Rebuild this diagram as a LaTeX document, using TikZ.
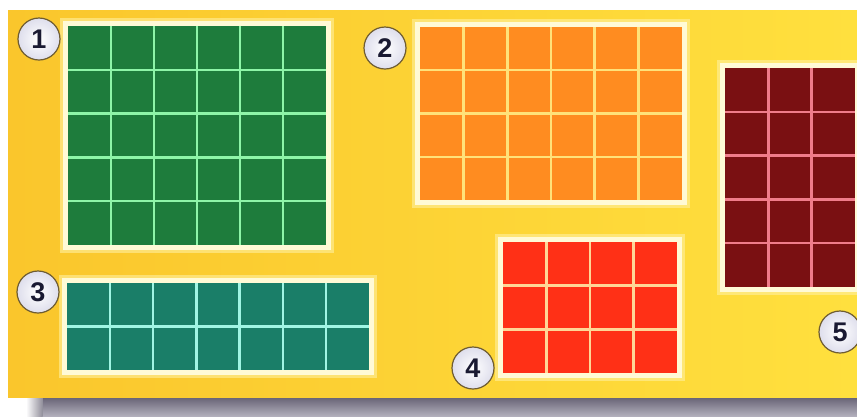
\documentclass[tikz,border=0pt]{standalone}
\usepackage{fontspec}
\setmainfont{Liberation Sans}
\usetikzlibrary{shadings}
\definecolor{bgl}{RGB}{250,198,44}
\definecolor{bgr}{RGB}{255,224,62}
\definecolor{framec}{RGB}{255,250,214}
\definecolor{glowc}{RGB}{255,240,160}
\definecolor{g1}{RGB}{30,124,60}
\definecolor{l1}{RGB}{142,245,168}
\definecolor{g2}{RGB}{255,140,32}
\definecolor{l2}{RGB}{255,226,122}
\definecolor{g3}{RGB}{26,126,104}
\definecolor{l3}{RGB}{160,245,228}
\definecolor{g4}{RGB}{255,48,22}
\definecolor{l4}{RGB}{255,214,150}
\definecolor{g5}{RGB}{122,16,18}
\definecolor{l5}{RGB}{240,124,138}
\definecolor{ringc}{RGB}{110,92,50}
\definecolor{numc}{RGB}{26,26,50}
\definecolor{shtop}{RGB}{98,94,112}
\definecolor{shbot}{RGB}{178,175,188}
% #1 x0, #2 y0, #3 x1, #4 y1, #5 inner column list, #6 inner row list, #7 ncols, #8 nrows, #9 colour suffix
\newcommand{\cellgrid}[9]{%
  \fill[glowc,opacity=0.6] (#1-8,#2-8) rectangle (#3+8,#4+8);
  \fill[framec] (#1-5,#2-5) rectangle (#3+5,#4+5);
  \fill[g#9] (#1,#2) rectangle (#3,#4);
  \foreach \i in {#5}{\draw[l#9,gridline] ({#1+(#3-#1)*\i/#7},#2) -- ({#1+(#3-#1)*\i/#7},#4);}
  \foreach \j in {#6}{\draw[l#9,gridline] (#1,{#2+(#4-#2)*\j/#8}) -- (#3,{#2+(#4-#2)*\j/#8});}
}
\begin{document}
\begin{tikzpicture}[x=1pt,y=-1pt,
  gridline/.style={line width=2.4pt},
  badge/.style={circle,minimum size=42pt,inner sep=0pt,draw=ringc,line width=1.2pt,
    inner color=white,outer color={rgb,255:red,222;green,222;blue,236},
    font=\fontsize{27}{27}\selectfont\bfseries,text=numc}]
\useasboundingbox (0,0) rectangle (857,416);
\fill[white] (0,0) rectangle (857,416);
% shadow
\shade[top color=shtop,bottom color=shbot] (42,396) rectangle (857,416);
\shade[left color=white,right color=shtop!70!white] (26,396) rectangle (42.5,416);
% yellow panel
\shade[left color=bgl,right color=bgr] (8,10) rectangle (857,397);
% grids
\cellgrid{68}{26}{326}{245}{1,...,5}{1,...,4}{6}{5}{1}
\cellgrid{420}{27}{682}{200}{1,...,5}{1,2,3}{6}{4}{2}
\cellgrid{67}{283}{369}{370}{1,...,6}{1}{7}{2}{3}
\cellgrid{503}{242}{677}{373}{1,2,3}{1,2}{4}{3}{4}
\cellgrid{725}{68}{855}{287}{1,2}{1,...,4}{3}{5}{5}
% badges
\node[badge] (n1) at (39,39) {1};
\node[badge] (n2) at (385,48) {2};
\node[badge] (n3) at (38,292) {3};
\node[badge] (n4) at (473,368) {4};
\node[badge] (n5) at (840,332) {5};
\end{tikzpicture}
\end{document}
